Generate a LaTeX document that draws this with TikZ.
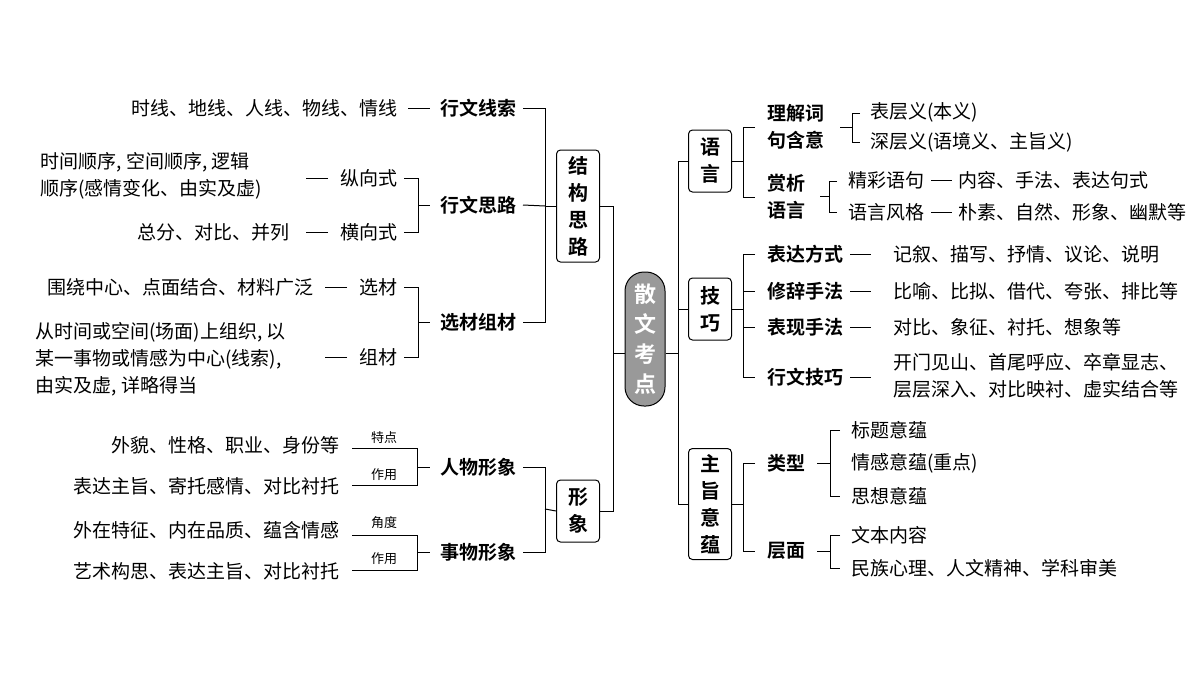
\documentclass[tikz,border=0pt]{standalone}
\usepackage{fontspec}
\setmainfont{Noto Sans CJK SC}
\newfontfamily\cjkb{Noto Sans CJK SC Bold}
\newcommand\dsh{\hspace{0.35em}\rule[0.33em]{1.1em}{0.8pt}\hspace{0.35em}}
\begin{document}
\begin{tikzpicture}[x=1pt,y=-1pt,line width=1pt,
  leaf/.style={inner sep=0pt,font=\fontsize{19}{27}\selectfont},
  head/.style={inner sep=0pt,font=\cjkb\fontsize{19}{27}\selectfont},
  tiny/.style={inner sep=0pt,font=\fontsize{13}{15}\selectfont},
  box/.style={draw,rounded corners=4pt,minimum width=43pt,inner sep=2pt,align=center,font=\cjkb\fontsize{20}{27}\selectfont}]
\useasboundingbox (0,0) rectangle (1200,675);
% center
\node[fill=black!40,draw,rounded corners=19pt,minimum width=40pt,minimum height=134pt,align=center,text=white,font=\cjkb\fontsize{22}{30}\selectfont] (c) at (645,339) {散\\文\\考\\点};
\coordinate (lt) at (613,353);
\coordinate (rt) at (678,353);
\draw (c.west|-lt) -- (lt); \draw (c.east|-rt) -- (rt);
% left boxes
\node[box,minimum height=112pt] (jg) at (578,206) {结\\构\\思\\路};
\node[box,minimum height=62pt] (xx) at (578,511) {形\\象};
\draw (jg.east) -| (613,206) |- (xx.east);
% right boxes
\node[box,minimum height=62pt] (yy) at (710,161) {语\\言};
\node[box,minimum height=62pt] (jq) at (710,309) {技\\巧};
\node[box,minimum height=111pt] (zz) at (710,504) {主\\旨\\意\\蕴};
\draw (678,161) -- (yy.west); \draw (678,309) -- (jq.west);
\draw (678,161) -- (678,504) -- (zz.west);
% ---- 结构思路
\node[head,anchor=west] (a1) at (440,108) {行文线索};
\node[head,anchor=west] (a2) at (440,205) {行文思路};
\node[head,anchor=west] (a3) at (440,322) {选材组材};
\draw (jg.west) -- (545,206);
\draw ([xshift=6pt]a1.east) -| (545,322) -- ([xshift=6pt]a3.east);
\draw (545,206) -- ([xshift=6pt]a2.east);
\node[leaf,anchor=east] (a1l) at (398,108) {时线、地线、人线、物线、情线};
\draw ([xshift=10pt]a1l.east) -- ([xshift=-10pt]a1.west);
\node[leaf,anchor=east] (b1) at (398,178) {纵向式};
\node[leaf,anchor=east] (b2) at (398,232) {横向式};
\draw ([xshift=6pt]b1.east) -| (418,232) -- ([xshift=6pt]b2.east);
\draw (418,205) -- ([xshift=-10pt]a2.west);
\draw ([xshift=-12pt]b1.west) -- ++(-22,0);
\draw ([xshift=-12pt]b2.west) -- ++(-22,0);
\node[leaf,anchor=west,align=left] (b1l) at (40,176) {时间顺序, 空间顺序, 逻辑\\顺序(感情变化、由实及虚)};
\node[leaf,anchor=east] (b2l) at (290,232) {总分、对比、并列};
\node[leaf,anchor=east] (c1) at (398,287) {选材};
\node[leaf,anchor=east] (c2) at (398,357) {组材};
\draw ([xshift=6pt]c1.east) -| (418,357) -- ([xshift=6pt]c2.east);
\draw (418,322) -- ([xshift=-10pt]a3.west);
\draw ([xshift=-12pt]c1.west) -- ++(-22,0);
\draw ([xshift=-12pt]c2.west) -- ++(-22,0);
\node[leaf,anchor=east] (c1l) at (314,287) {围绕中心、点面结合、材料广泛};
\node[leaf,anchor=west,align=left] (c2l) at (35,359) {从时间或空间(场面)上组织, 以\\某一事物或情感为中心(线索),\\由实及虚, 详略得当};
% ---- 形象
\node[head,anchor=west] (d1) at (440,467) {人物形象};
\node[head,anchor=west] (d2) at (440,552) {事物形象};
\draw ([xshift=6pt]d1.east) -| (545,552) -- ([xshift=6pt]d2.east);
\draw (xx.west) -- (545,509);
\node[leaf,anchor=east] (e1) at (340,445) {外貌、性格、职业、身份等};
\node[leaf,anchor=east] (e2) at (340,486) {表达主旨、寄托感情、对比衬托};
\node[leaf,anchor=east] (e3) at (340,530) {外在特征、内在品质、蕴含情感};
\node[leaf,anchor=east] (e4) at (340,571) {艺术构思、表达主旨、对比衬托};
\draw (352,448) -| (417,485) -- (352,485); \draw (417,467) -- ([xshift=-10pt]d1.west);
\draw (352,535) -| (417,570) -- (352,570); \draw (417,552) -- ([xshift=-10pt]d2.west);
\node[tiny] (t1) at (384,438) {特点};
\node[tiny] (t2) at (384,475) {作用};
\node[tiny] (t3) at (384,523) {角度};
\node[tiny] (t4) at (384,559) {作用};
% ---- 语言
\node[head,anchor=west,align=left] (f1) at (767,127) {理解词\\句含意};
\node[head,anchor=west,align=left] (f2) at (767,197) {赏析\\语言};
\draw (yy.east) -- (743,161);
\draw (755,127) -| (743,197) -- (755,197);
\draw (840,127) -- (852,127); \draw (860,113) -| (852,142) -- (860,142);
\node[leaf,anchor=west] at (870,112) {表层义(本义)};
\node[leaf,anchor=west] at (870,142) {深层义(语境义、主旨义)};
\draw (820,196) -- (829,196); \draw (837,181) -| (829,212) -- (837,212);
\node[leaf,anchor=west] at (848,180) {精彩语句\dsh 内容、手法、表达句式};
\node[leaf,anchor=west] at (848,212) {语言风格\dsh 朴素、自然、形象、幽默等};
% ---- 技巧
\draw (jq.east) -- (743,309);
\draw (755,254) -| (743,377) -- (755,377);
\draw (743,291) -- (755,291); \draw (743,327) -- (755,327);
\node[head,anchor=west] at (767,254) {表达方式\dsh};
\node[head,anchor=west] at (767,291) {修辞手法\dsh};
\node[head,anchor=west] at (767,327) {表现手法\dsh};
\node[head,anchor=west] at (767,377) {行文技巧\dsh};
\node[leaf,anchor=west] at (893,254) {记叙、描写、抒情、议论、说明};
\node[leaf,anchor=west] at (893,291) {比喻、比拟、借代、夸张、排比等};
\node[leaf,anchor=west] at (893,327) {对比、象征、衬托、想象等};
\node[leaf,anchor=west,align=left] at (893,376) {开门见山、首尾呼应、卒章显志、\\层层深入、对比映衬、虚实结合等};
% ---- 主旨意蕴
\draw (zz.east) -- (743,504);
\draw (755,463) -| (743,551) -- (755,551);
\node[head,anchor=west] at (767,463) {类型};
\node[head,anchor=west] at (767,551) {层面};
\draw (817,463) -- (830,463); \draw (840,430) -| (830,496) -- (840,496);
\node[leaf,anchor=west] at (851,430) {标题意蕴};
\node[leaf,anchor=west] at (851,463) {情感意蕴(重点)};
\node[leaf,anchor=west] at (851,496) {思想意蕴};
\draw (817,551) -- (830,551); \draw (840,535) -| (830,568) -- (840,568);
\node[leaf,anchor=west] at (851,535) {文本内容};
\node[leaf,anchor=west] at (851,568) {民族心理、人文精神、学科审美};
\end{tikzpicture}
\end{document}
